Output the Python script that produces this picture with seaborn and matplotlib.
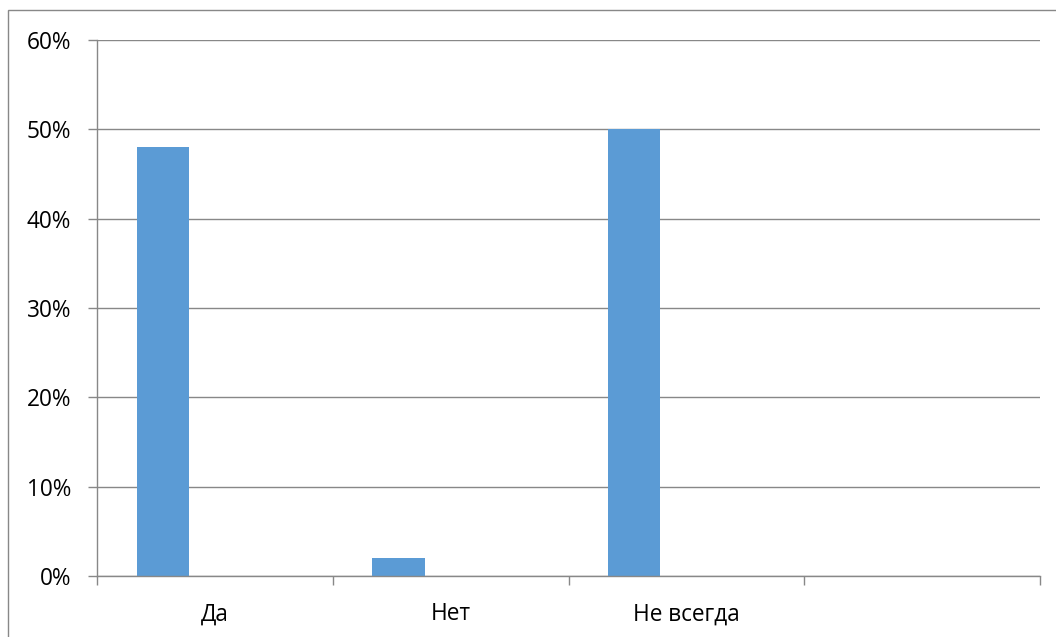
import matplotlib
matplotlib.use("Agg")
import matplotlib.pyplot as plt
import seaborn as sns
import pandas as pd
import numpy as np
from matplotlib.patches import Rectangle

categories = ["Да", "Нет", "Не всегда", ""]
series1 = [0.48, 0.02, 0.50, np.nan]
series2 = [np.nan, np.nan, np.nan, np.nan]
series3 = [np.nan, np.nan, np.nan, np.nan]
series_names = ["Ряд 1", "Ряд 2", "Ряд 3"]
yticks = [0, 0.1, 0.2, 0.3, 0.4, 0.5, 0.6]
ytick_labels = ["0%", "10%", "20%", "30%", "40%", "50%", "60%"]

rows = []
for name, vals in zip(series_names, [series1, series2, series3]):
    for c, v in zip(categories, vals):
        rows.append({"cat": c, "val": v, "series": name})
df = pd.DataFrame(rows)

sns.set_style("white")
plt.rcParams["font.family"] = ["Open Sans", "DejaVu Sans"]

W, H = 1056, 637
fig = plt.figure(figsize=(W / 100, H / 100), dpi=100)
ax = fig.add_axes([97 / W, 1 - 576 / H, (1040 - 97) / W, (576 - 40) / H])

grid_c = "#888888"
sns.barplot(data=df, x="cat", y="val", hue="series", order=categories,
            hue_order=series_names, palette=["#5B9BD5", "#ED7D31", "#A5A5A5"],
            width=0.664, linewidth=0, saturation=1, legend=False, ax=ax)

ax.set_ylim(0, 0.6)
ax.set_xlim(-0.5, len(categories) - 0.5)
ax.set_yticks(yticks)
ax.set_yticklabels(ytick_labels)
ax.yaxis.grid(True, color=grid_c, linewidth=1)
ax.set_axisbelow(True)

ax.set_xticks(np.arange(-0.5, len(categories), 1.0))
ax.set_xticklabels([])
ax.set_xticks(np.arange(len(categories)), minor=True)
ax.set_xticklabels(categories, minor=True)
ax.tick_params(axis="x", which="major", length=6.5, color=grid_c, width=1, direction="out", bottom=True)
ax.tick_params(axis="x", which="minor", length=0, pad=19, labelsize=16.3, labelcolor="#000000")
ax.tick_params(axis="y", which="major", length=6.5, color=grid_c, width=1, left=True, pad=12,
               labelsize=16.3, labelcolor="#000000")

ax.set_xlabel("")
ax.set_ylabel("")
for s in ["top", "right"]:
    ax.spines[s].set_visible(False)
for s in ["left", "bottom"]:
    ax.spines[s].set_color(grid_c)
    ax.spines[s].set_linewidth(1)

fig.patches.append(Rectangle((8 / W, -0.1), 1.2, 1.1 - 10 / H, transform=fig.transFigure,
                             fill=False, edgecolor="#888888", linewidth=1))

fig.savefig("out.png", dpi=100)
